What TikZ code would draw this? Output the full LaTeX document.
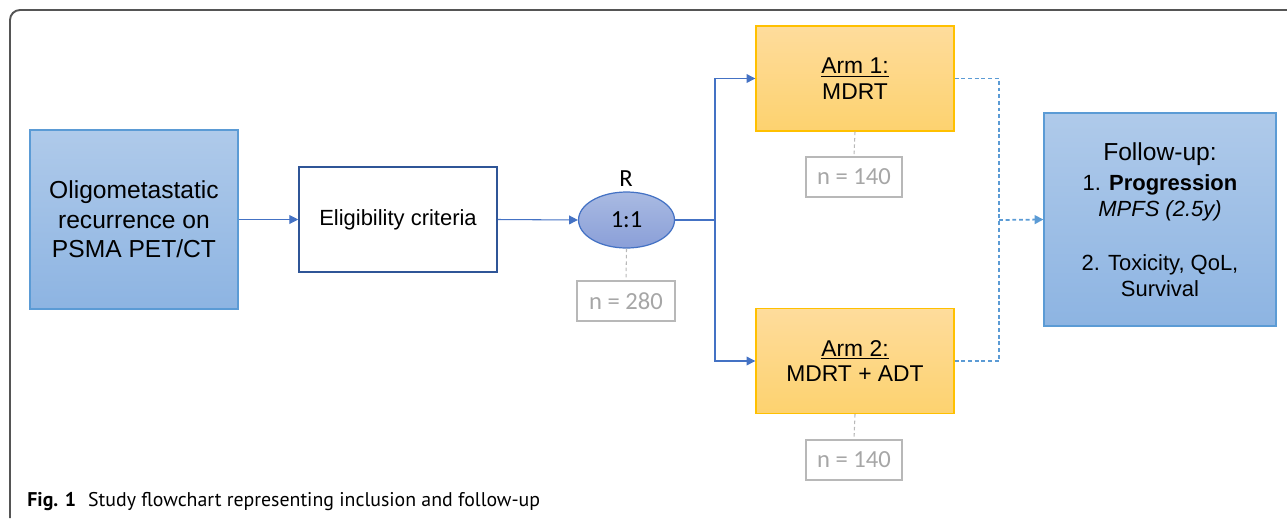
\documentclass[tikz,border=0pt]{standalone}
\usepackage{fontspec}
\usepackage{tikz}
\usetikzlibrary{arrows.meta,shapes.geometric}
\setmainfont{Liberation Sans}
\newfontfamily\calibfont{Carlito}
\newfontfamily\captionfont{PT Sans}
\definecolor{boxblueT}{HTML}{AFCAEA}
\definecolor{boxblueB}{HTML}{8DB4E2}
\definecolor{boxblueL}{HTML}{5B9BD5}
\definecolor{armT}{HTML}{FEDC9C}
\definecolor{armB}{HTML}{FDD26F}
\definecolor{armL}{HTML}{FFC000}
\definecolor{randT}{HTML}{A9BAE2}
\definecolor{randB}{HTML}{8A9FD8}
\definecolor{connblue}{HTML}{4472C4}
\definecolor{eligL}{HTML}{2F5597}
\definecolor{countgray}{HTML}{A6A6A6}
\definecolor{framegray}{HTML}{555555}

\begin{document}
\begin{tikzpicture}
	[x=0.02cm,y=-0.02cm,
	bluebox/.style={rectangle,draw=boxblueL,line width=0.7pt,top color=boxblueT,bottom color=boxblueB,align=center,inner sep=0pt},
	eligbox/.style={rectangle,draw=eligL,line width=0.9pt,fill=white,minimum width=3.96cm,minimum height=2.1cm,inner sep=0pt,font=\fontsize{12.5}{15}\selectfont},
	armbox/.style={rectangle,draw=armL,line width=0.8pt,top color=armT,bottom color=armB,minimum width=3.96cm,minimum height=2.1cm,align=center,inner sep=0pt,font=\fontsize{13}{14.5}\selectfont},
	countbox/.style={rectangle,draw=countgray!80,line width=0.6pt,text=countgray,minimum height=0.8cm,inner sep=0pt,font=\calibfont\fontsize{14}{16}\selectfont},
	conn/.style={draw=connblue,line width=0.6pt},
	dashconn/.style={draw=boxblueL,line width=0.7pt,dash pattern=on 2.2pt off 1.6pt},
	grayline/.style={draw=countgray!80,line width=0.6pt,dash pattern=on 2pt off 1.6pt},
	tip/.style={-{Triangle[length=5pt,width=5pt]}}]
	\useasboundingbox (0,0) rectangle (1287,518);
	\draw[framegray,line width=1.1pt,rounded corners=0.2cm] (10,518) -- (10,10) -- (1287,10);
	
	\node[bluebox,minimum width=4.16cm,minimum height=3.58cm,font=\fontsize{14}{16.7}\selectfont] (pet) at (134,219.5) {Oligometastatic\\recurrence on\\PSMA PET/CT};
	\node[eligbox] (elig) at (398,219.5) {\raisebox{-2pt}{Eligibility criteria}};
	\node[ellipse,draw=connblue,line width=0.7pt,top color=randT,bottom color=randB,minimum width=1.92cm,minimum height=1.12cm,inner sep=0pt,font=\calibfont\fontsize{14}{16}\selectfont] (rand) at (626.5,220) {1:1};
	\node[font=\calibfont\fontsize{14}{16}\selectfont,inner sep=0pt] (rlabel) at (626,179) {R};
	\node[countbox,minimum width=1.96cm] (n280) at (626,301) {n = 280};
	\node[armbox] (arm1) at (855,78.5) {\underline{Arm 1:}\\MDRT};
	\node[armbox] (arm2) at (855,361) {\underline{Arm 2:}\\MDRT + ADT};
	\node[countbox,minimum width=1.92cm] (n140a) at (854,177) {n = 140};
	\node[countbox,minimum width=1.92cm] (n140b) at (854,460) {n = 140};
	\node[bluebox,minimum width=4.64cm,minimum height=4.26cm,font=\fontsize{12.5}{14.5}\selectfont] (fu) at (1160,219.5) {{\fontsize{14}{16.7}\selectfont Follow-up:}\\[3pt]1. \textbf{Progression}\\\textit{MPFS (2.5y)}\\[16.5pt]2. Toxicity, QoL,\\Survival};
	\node[font=\captionfont\fontsize{11.3}{13}\selectfont,anchor=base west,inner sep=0pt] (cap) at (27,506) {\textbf{Fig. 1}\hspace{0.6em}Study flowchart representing inclusion and follow-up};
	
	\coordinate (fork) at (715,220);
	\coordinate (merge) at (999,220);
	\draw[conn,tip] (pet.east) -- (elig.west);
	\draw[conn,tip] (elig.east) -- (rand.west);
	\draw[conn] (rand.east) -- (fork);
	\draw[conn,tip] (fork) |- (arm1.west);
	\draw[conn,tip] (fork) |- (arm2.west);
	\draw[dashconn] (arm1.east) -| (merge);
	\draw[dashconn] (arm2.east) -| (merge);
	\draw[dashconn,line width=1pt,tip] (merge) -- (fu.west);
	\foreach \from/\to in {rand/n280,arm1/n140a,arm2/n140b}
	\draw[grayline] (\from.south) -- (\to.north);
	
\end{tikzpicture}
\end{document}
